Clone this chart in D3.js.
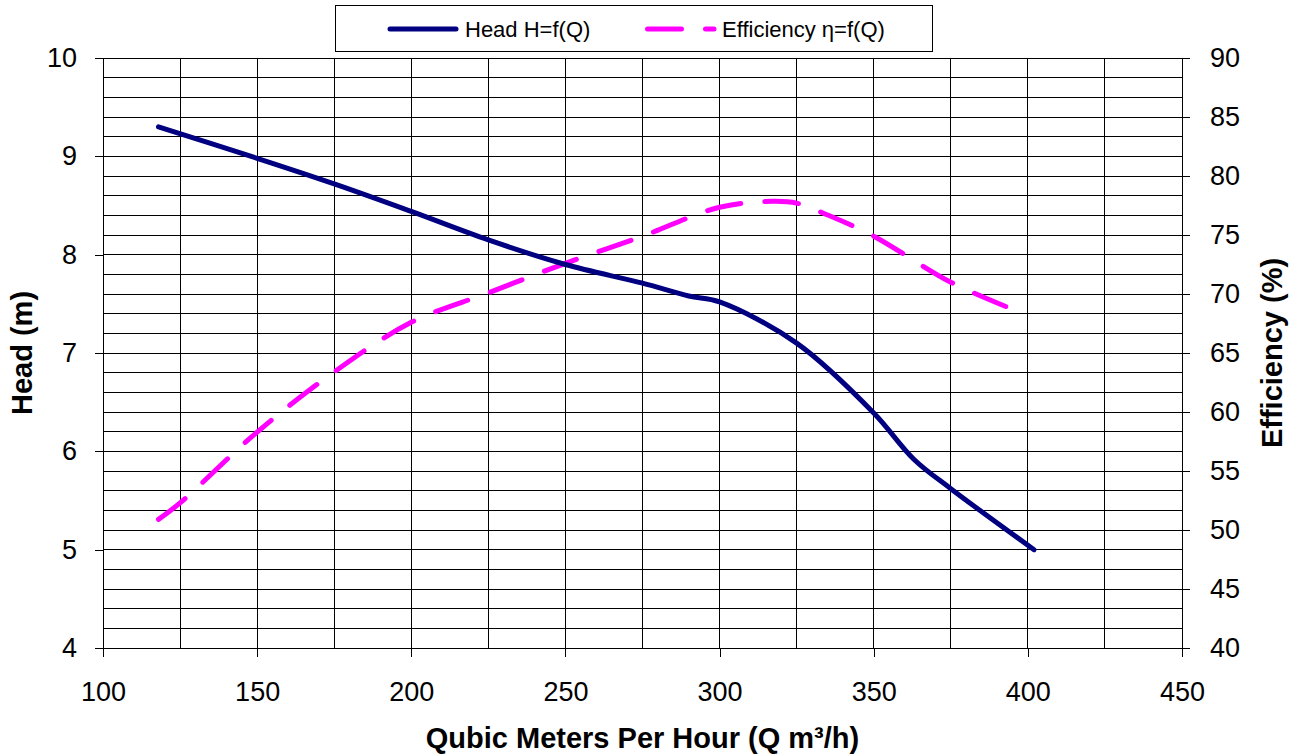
<!DOCTYPE html>
<html>
<head>
<meta charset="utf-8">
<style>
  body { margin: 0; background: #fff; }
  svg { font-family: "Liberation Sans", Arial, sans-serif; }
  .grid line { stroke: #000; stroke-width: 1; shape-rendering: crispEdges; }
  .axis path, .axis line { stroke: #000; shape-rendering: crispEdges; }
  .axis text { font-size: 27px; fill: #000; }
  .title { font-size: 29px; font-weight: bold; }
</style>
</head>
<body>
<svg width="1291" height="755"></svg>
<script src="https://d3js.org/d3.v7.min.js"></script>
<script>

// flow Q (m3/h) and head H (m)
var headQ = [118, 150, 175, 200, 225, 250, 275, 290, 300, 325, 350, 363, 375, 402];
var headH = [9.30, 8.98, 8.72, 8.44, 8.15, 7.90, 7.71, 7.58, 7.52, 7.10, 6.39, 5.92, 5.62, 5.00];

// flow Q (m3/h) and efficiency (%)
var effQ = [118, 125, 150, 175, 200, 225, 250, 275, 300, 317, 325, 335, 350, 375, 398];
var effE = [50.9, 52.3, 58.3, 63.4, 67.6, 70.1, 72.6, 74.9, 77.35, 77.85, 77.7, 76.7, 74.9, 71.0, 68.4];

var xTicks = [100, 150, 200, 250, 300, 350, 400, 450];
var headTicks = [4, 5, 6, 7, 8, 9, 10];
var effTicks = [40, 45, 50, 55, 60, 65, 70, 75, 80, 85, 90];

var svg = d3.select("svg"),
    margin = {top: 58, right: 109, bottom: 107, left: 103},
    width = +svg.attr("width") - margin.left - margin.right,
    height = +svg.attr("height") - margin.top - margin.bottom,
    g = svg.append("g").attr("transform", "translate(" + margin.left + "," + margin.top + ")");

var x = d3.scaleLinear().domain([100, 450]).range([0, width]);
var yH = d3.scaleLinear().domain([4, 10]).range([height, 0]);
var yE = d3.scaleLinear().domain([40, 90]).range([height, 0]);

// grid: every 25 m3/h and every 0.2 m
g.append("g").attr("class", "grid")
  .selectAll("line").data(d3.range(100, 451, 25))
  .enter().append("line")
    .attr("x1", function(d) { return x(d); })
    .attr("x2", function(d) { return x(d); })
    .attr("y1", 0).attr("y2", height);

g.append("g").attr("class", "grid")
  .selectAll("line").data(d3.range(0, 31).map(function(i) { return 4 + i * 0.2; }))
  .enter().append("line")
    .attr("x1", 0).attr("x2", width)
    .attr("y1", function(d) { return yH(d); })
    .attr("y2", function(d) { return yH(d); });

// axes
g.append("g").attr("class", "axis")
    .attr("transform", "translate(0," + height + ")")
    .call(d3.axisBottom(x).tickValues(xTicks).tickFormat(d3.format("d"))
      .tickSize(9).tickSizeOuter(0).tickPadding(25));

g.append("g").attr("class", "axis")
    .call(d3.axisLeft(yH).tickValues(headTicks).tickFormat(d3.format("d"))
      .tickSize(8).tickSizeOuter(0).tickPadding(18));

g.append("g").attr("class", "axis")
    .attr("transform", "translate(" + width + ",0)")
    .call(d3.axisRight(yE).tickValues(effTicks).tickFormat(d3.format("d"))
      .tickSize(8).tickSizeOuter(0).tickPadding(20));

// curves
var headLine = d3.line()
    .x(function(d, i) { return x(headQ[i]); })
    .y(function(d) { return yH(d); })
    .curve(d3.curveCatmullRom);

var effLine = d3.line()
    .x(function(d, i) { return x(effQ[i]); })
    .y(function(d) { return yE(d); })
    .curve(d3.curveCatmullRom);

g.append("path")
    .datum(effE)
    .attr("fill", "none")
    .attr("stroke", "#ff00ff")
    .attr("stroke-width", 5)
    .attr("stroke-linecap", "round")
    .attr("stroke-dasharray", "34,24")
    .attr("d", effLine);

g.append("path")
    .datum(headH)
    .attr("fill", "none")
    .attr("stroke", "#000080")
    .attr("stroke-width", 5)
    .attr("stroke-linejoin", "round")
    .attr("stroke-linecap", "round")
    .attr("d", headLine);

// axis titles
svg.append("text")
    .attr("class", "title")
    .attr("transform", "translate(32," + (margin.top + height / 2) + ") rotate(-90)")
    .attr("text-anchor", "middle")
    .text("Head (m)");

svg.append("text")
    .attr("class", "title")
    .attr("transform", "translate(1282," + (margin.top + height / 2) + ") rotate(-90)")
    .attr("text-anchor", "middle")
    .text("Efficiency (%)");

svg.append("text")
    .attr("class", "title")
    .attr("x", margin.left + width / 2)
    .attr("y", 748)
    .attr("text-anchor", "middle")
    .text("Qubic Meters Per Hour (Q m\u00b3/h)");

// legend
var legend = svg.append("g");
legend.append("rect")
    .attr("x", 335.5).attr("y", 5.5)
    .attr("width", 597).attr("height", 46)
    .attr("fill", "#fff").attr("stroke", "#000");

legend.append("line")
    .attr("x1", 390).attr("x2", 456).attr("y1", 29).attr("y2", 29)
    .attr("stroke", "#000080").attr("stroke-width", 5).attr("stroke-linecap", "round");
legend.append("text")
    .attr("x", 465).attr("y", 37)
    .style("font-size", "22px")
    .text("Head H=f(Q)");

legend.append("line")
    .attr("x1", 647.5).attr("x2", 714).attr("y1", 29).attr("y2", 29)
    .attr("stroke", "#ff00ff").attr("stroke-width", 5).attr("stroke-linecap", "round")
    .attr("stroke-dasharray", "34,24");
legend.append("text")
    .attr("x", 722).attr("y", 37)
    .style("font-size", "22px")
    .text("Efficiency \u03b7=f(Q)");

</script>
</body>
</html>
